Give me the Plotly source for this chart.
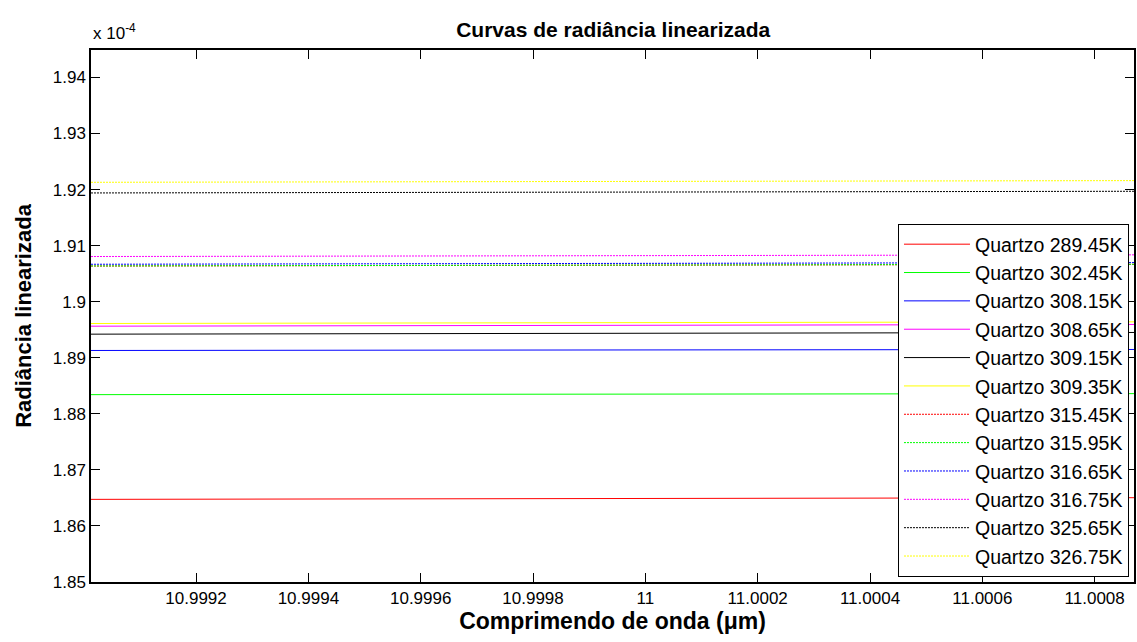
import plotly.graph_objects as go

# Wavelength span (micrometres) of every curve
wavelength = [10.999013, 11.00087]

series_names = [
    "Quartzo 289.45K", "Quartzo 302.45K", "Quartzo 308.15K", "Quartzo 308.65K",
    "Quartzo 309.15K", "Quartzo 309.35K", "Quartzo 315.45K", "Quartzo 315.95K",
    "Quartzo 316.65K", "Quartzo 316.75K", "Quartzo 325.65K", "Quartzo 326.75K",
]
# Linearized radiance (x 1e-4) at the start and at the end of the wavelength span
radiance_start = [1.86474, 1.88342, 1.89130, 1.89563, 1.89421, 1.89611,
                  1.90636, 1.90638, 1.90668, 1.90806, 1.91940, 1.92130]
radiance_end = [1.86504, 1.88360, 1.89148, 1.89594, 1.89451, 1.89641,
                1.90666, 1.90668, 1.90698, 1.90836, 1.91970, 1.92160]

series_colors = ["#ff0000", "#00ff00", "#0000ff", "#ff00ff", "#000000", "#ffff00",
                 "#ff0000", "#00ff00", "#0000ff", "#ff00ff", "#000000", "#ffff00"]
series_dash = ["solid"] * 6 + ["2px,1px"] * 6

x_tick_vals = [10.9992, 10.9994, 10.9996, 10.9998, 11.0, 11.0002, 11.0004, 11.0006, 11.0008]
x_tick_text = ["10.9992", "10.9994", "10.9996", "10.9998", "11", "11.0002", "11.0004", "11.0006", "11.0008"]
y_tick_vals = [1.85, 1.86, 1.87, 1.88, 1.89, 1.90, 1.91, 1.92, 1.93, 1.94]
y_tick_text = ["1.85", "1.86", "1.87", "1.88", "1.89", "1.9", "1.91", "1.92", "1.93", "1.94"]

FONT = "Liberation Sans, Arial, sans-serif"

fig = go.Figure()
for name, y0, y1, c, d in zip(series_names, radiance_start, radiance_end, series_colors, series_dash):
    fig.add_trace(go.Scatter(x=wavelength, y=[y0, y1], mode="lines", name=name,
                             line=dict(color=c, width=1, dash=d)))

axis_common = dict(showline=True, linecolor="black", linewidth=1.5, mirror="ticks",
                   ticks="inside", ticklen=9, tickwidth=1, tickcolor="black",
                   showgrid=False, zeroline=False,
                   tickfont=dict(family=FONT, size=17, color="black"))

fig.update_layout(
    width=1137, height=642,
    margin=dict(l=91, r=1, t=50, b=60),
    paper_bgcolor="white", plot_bgcolor="white",
    title=dict(text="<b>Curvas de radiância linearizada</b>", x=0.5393, xanchor="center",
               y=0.9533, yanchor="middle", font=dict(family=FONT, size=21, color="black")),
    xaxis=dict(range=wavelength, tickvals=x_tick_vals, ticktext=x_tick_text,
               title=dict(text="<b>Comprimendo de onda (μm)</b>", standoff=6,
                          font=dict(family=FONT, size=23, color="black")),
               **axis_common),
    yaxis=dict(range=[1.85, 1.9449], tickvals=y_tick_vals, ticktext=y_tick_text,
               title=dict(text="<b>Radiância linearizada</b>", standoff=15,
                          font=dict(family=FONT, size=22, color="black")),
               **axis_common),
    legend=dict(x=0.9952, xanchor="right", y=0.0094, yanchor="bottom",
                bgcolor="white", bordercolor="black", borderwidth=1,
                itemwidth=66, tracegroupgap=0,
                font=dict(family=FONT, size=19.5, color="black")),
    annotations=[dict(text="x 10<sup>-4</sup>", xref="paper", yref="paper", x=0.0, y=1.0,
                      xanchor="left", yanchor="bottom", showarrow=False, yshift=5,
                      font=dict(family=FONT, size=17, color="black"))],
)

fig.write_html(
    "out.html",
    config={"displayModeBar": False},
    post_script="document.body.style.margin='0';document.body.style.overflow='hidden';",
)
